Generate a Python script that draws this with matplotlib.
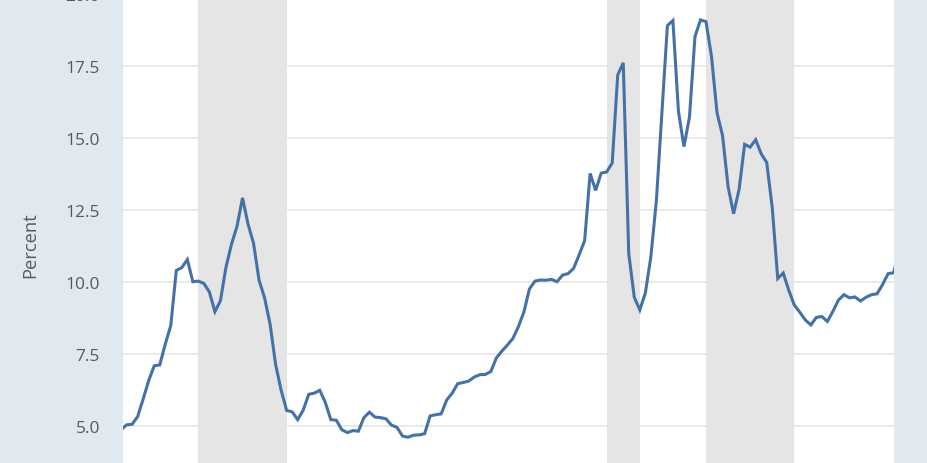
import matplotlib
matplotlib.use("Agg")
import matplotlib.pyplot as plt
import matplotlib.transforms as mtransforms
import numpy as np

# Monthly values, Aug 1972 .. Jun 1984 (percent)
start_label = "1972-08"
values = [
    4.80, 4.87, 5.04, 5.06, 5.33,                                        # 1972 Aug-Dec
    5.94, 6.58, 7.09, 7.12, 7.84, 8.49, 10.40, 10.50, 10.78, 10.01, 10.03, 9.95,   # 1973
    9.65, 8.97, 9.35, 10.51, 11.31, 11.93, 12.92, 12.01, 11.34, 10.06, 9.45, 8.53, # 1974
    7.13, 6.24, 5.54, 5.49, 5.22, 5.55, 6.10, 6.14, 6.24, 5.82, 5.22, 5.20,        # 1975
    4.87, 4.77, 4.84, 4.82, 5.29, 5.48, 5.31, 5.29, 5.25, 5.03, 4.95, 4.65,        # 1976
    4.61, 4.68, 4.69, 4.73, 5.35, 5.39, 5.42, 5.90, 6.14, 6.47, 6.51, 6.56,        # 1977
    6.70, 6.78, 6.79, 6.89, 7.36, 7.60, 7.81, 8.04, 8.45, 8.96, 9.76, 10.03,       # 1978
    10.07, 10.06, 10.09, 10.01, 10.24, 10.29, 10.47, 10.94, 11.43, 13.77, 13.18, 13.78,  # 1979
    13.82, 14.13, 17.19, 17.61, 10.98, 9.47, 9.03, 9.61, 10.87, 12.81, 15.85, 18.90,     # 1980
    19.08, 15.93, 14.70, 15.72, 18.52, 19.10, 19.04, 17.82, 15.87, 15.08, 13.31, 12.37,  # 1981
    13.22, 14.78, 14.68, 14.94, 14.45, 14.15, 12.59, 10.12, 10.31, 9.71, 9.20, 8.95,     # 1982
    8.68, 8.51, 8.77, 8.80, 8.63, 8.98, 9.37, 9.56, 9.45, 9.48, 9.34, 9.47,              # 1983
    9.56, 9.59, 9.91, 10.29, 10.32, 11.06,                                               # 1984
]
# Recession periods (start month, end month)
recessions = [("1973-11", "1975-03"), ("1980-01", "1980-07"), ("1981-07", "1982-11")]
yticks = [5.0, 7.5, 10.0, 12.5, 15.0, 17.5, 20.0]
ylabel = "Percent"

def month_index(s, origin="1972-09"):
    y, m = map(int, s.split("-"))
    y0, m0 = map(int, origin.split("-"))
    return (y - y0) * 12 + (m - m0)

x0 = month_index(start_label)
x = np.arange(len(values)) + x0

W, H = 928, 464
fig = plt.figure(figsize=(W / 100, H / 100), dpi=100)
fig.patch.set_facecolor("#e1e9f0")
ax = fig.add_axes([123 / W, 0, (894 - 123) / W, 1])
ax.set_facecolor("white")

for y in yticks:
    ax.axhline(y, color="#e6e6e6", lw=1.2, zorder=1)
for a, b in recessions:
    ax.axvspan(month_index(a), month_index(b), color="#e5e5e5", lw=0, zorder=2)

ax.plot(x, values, color="#4472a8", lw=2.2, zorder=3, solid_joinstyle="miter")

ax.set_yticks(yticks)
ax.set_yticklabels([f"{v:.1f}" for v in yticks])
ax.tick_params(axis="y", length=0, pad=16.5, labelsize=12.5, labelcolor="#595959")
for lab in ax.get_yticklabels():
    lab.set_fontfamily(["Open Sans", "DejaVu Sans"])
ax.set_xticks([])
for s in ax.spines.values():
    s.set_visible(False)

# set limits after ticks so they are not expanded
ax.set_xlim(0.34, 140.07)
ax.set_ylim(3.715, 19.826)

# top tick label that is partly cut off by the figure edge
trans = mtransforms.blended_transform_factory(
    ax.transAxes, ax.transData) + mtransforms.ScaledTranslation(-23 / 100, 0, fig.dpi_scale_trans)
ax.text(0, yticks[-1], f"{yticks[-1]:.1f}", transform=trans, ha="right", va="center_baseline",
        fontsize=12.5, color="#595959", family=["Open Sans", "DejaVu Sans"], clip_on=False)

fig.text(30 / W, 1 - 245 / H, ylabel, rotation=90, ha="center", va="center",
         fontsize=13.2, color="#595959", family=["Open Sans", "DejaVu Sans"])

fig.savefig("out.png", dpi=100, facecolor=fig.get_facecolor())
